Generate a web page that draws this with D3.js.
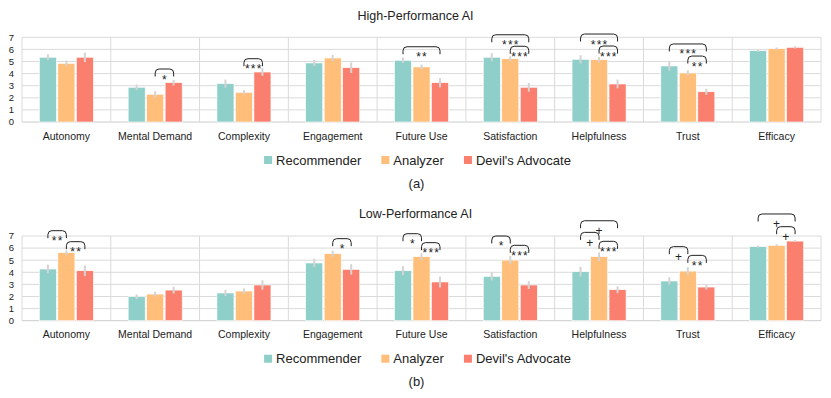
<!DOCTYPE html>
<html>
<head>
<meta charset="utf-8">
<script src="https://cdn.jsdelivr.net/npm/d3@7"></script>
<style>
  body { margin: 0; background: #fff; }
  text { font-family: "Liberation Sans", Arial, sans-serif; fill: #222; }
</style>
</head>
<body>
<div id="chart"></div>
<script>
// categories + series
const categories = ["Autonomy", "Mental Demand", "Complexity", "Engagement", "Future Use",
  "Satisfaction", "Helpfulness", "Trust", "Efficacy"];
const series = ["Recommender", "Analyzer", "Devil's Advocate"];
const colors = ["#8ECFC9", "#FFBE7A", "#FA7F6F"];
const yTicks = [0, 1, 2, 3, 4, 5, 6, 7];

// (a) high-performance AI, means and error half-widths
const highRecommender = [5.35, 2.87, 3.17, 4.88, 5.10, 5.35, 5.18, 4.63, 5.89];
const highAnalyzer    = [4.85, 2.29, 2.45, 5.29, 4.55, 5.23, 5.15, 4.05, 6.06];
const highDevil       = [5.35, 3.25, 4.13, 4.49, 3.25, 2.87, 3.14, 2.50, 6.17];
const highRecommenderErr = [0.24, 0.23, 0.33, 0.26, 0.22, 0.33, 0.34, 0.37, 0.10];
const highAnalyzerErr    = [0.23, 0.26, 0.18, 0.25, 0.20, 0.20, 0.22, 0.22, 0.10];
const highDevilErr       = [0.39, 0.23, 0.32, 0.44, 0.38, 0.36, 0.36, 0.25, 0.10];
// significance brackets: category, series index from/to, label, level (scale units)
const highBrackets = [
  { cat: "Mental Demand", a: 1, b: 2, label: "*", level: 4.38 },
  { cat: "Complexity", a: 1, b: 2, label: "***", level: 5.23 },
  { cat: "Future Use", a: 0, b: 2, label: "**", level: 6.22 },
  { cat: "Satisfaction", a: 0, b: 2, label: "***", level: 7.21 },
  { cat: "Satisfaction", a: 1, b: 2, label: "***", level: 6.26 },
  { cat: "Helpfulness", a: 0, b: 2, label: "***", level: 7.27 },
  { cat: "Helpfulness", a: 1, b: 2, label: "***", level: 6.28 },
  { cat: "Trust", a: 0, b: 2, label: "***", level: 6.45 },
  { cat: "Trust", a: 1, b: 2, label: "**", level: 5.45 }
];

// (b) low-performance AI
const lowRecommender = [4.27, 1.98, 2.29, 4.77, 4.13, 3.66, 4.05, 3.28, 6.12];
const lowAnalyzer    = [5.62, 2.20, 2.45, 5.54, 5.29, 5.01, 5.29, 4.10, 6.23];
const lowDevil       = [4.13, 2.53, 2.95, 4.24, 3.20, 2.95, 2.56, 2.78, 6.58];
const lowRecommenderErr = [0.36, 0.19, 0.26, 0.34, 0.37, 0.34, 0.40, 0.30, 0.08];
const lowAnalyzerErr    = [0.18, 0.20, 0.22, 0.25, 0.28, 0.34, 0.36, 0.33, 0.08];
const lowDevilErr       = [0.43, 0.28, 0.39, 0.43, 0.45, 0.33, 0.28, 0.20, 0.08];
const lowBrackets = [
  { cat: "Autonomy", a: 0, b: 1, label: "**", level: 7.44 },
  { cat: "Autonomy", a: 1, b: 2, label: "**", level: 6.53 },
  { cat: "Engagement", a: 1, b: 2, label: "*", level: 6.78 },
  { cat: "Future Use", a: 0, b: 1, label: "*", level: 7.19 },
  { cat: "Future Use", a: 1, b: 2, label: "***", level: 6.45 },
  { cat: "Satisfaction", a: 0, b: 1, label: "*", level: 7.0 },
  { cat: "Satisfaction", a: 1, b: 2, label: "***", level: 6.23 },
  { cat: "Helpfulness", a: 0, b: 2, label: "+", level: 8.26 },
  { cat: "Helpfulness", a: 0, b: 1, label: "+", level: 7.3 },
  { cat: "Helpfulness", a: 1, b: 2, label: "***", level: 6.56 },
  { cat: "Trust", a: 0, b: 1, label: "+", level: 6.12 },
  { cat: "Trust", a: 1, b: 2, label: "**", level: 5.4 },
  { cat: "Efficacy", a: 0, b: 2, label: "+", level: 8.82 },
  { cat: "Efficacy", a: 1, b: 2, label: "+", level: 7.77 }
];

const width = 831, height = 398;
const plot = { left: 22, right: 821, top: 37.3, bottom: 122 };

const svg = d3.select("#chart").append("svg")
  .attr("width", width)
  .attr("height", height)
  .attr("viewBox", [0, 0, width, height]);

const x0 = d3.scaleBand().domain(categories).range([plot.left, plot.right]);
const x1 = d3.scaleBand().domain(d3.range(series.length))
  .range([0, x0.bandwidth()]).paddingInner(0.08).paddingOuter(0.94);
const y = d3.scaleLinear().domain([0, 7]).range([plot.bottom, plot.top]);

function drawPanel(offset, title, caption, means, errs, brackets) {
  const g = svg.append("g").attr("transform", `translate(0,${offset})`);

  g.append("text")
    .attr("x", width / 2).attr("y", 19.5)
    .attr("text-anchor", "middle")
    .attr("font-size", 12.5)
    .text(title);

  // grid
  g.append("g").selectAll("line")
    .data(yTicks)
    .join("line")
    .attr("x1", plot.left).attr("x2", plot.right)
    .attr("y1", d => y(d)).attr("y2", d => y(d))
    .attr("stroke", d => d === 0 ? "#cccccc" : "#dadada")
    .attr("stroke-width", 1);
  g.append("g").selectAll("line")
    .data(categories.concat(["__end"]))
    .join("line")
    .attr("x1", d => d === "__end" ? plot.right : x0(d))
    .attr("x2", d => d === "__end" ? plot.right : x0(d))
    .attr("y1", y(0)).attr("y2", y(7))
    .attr("stroke", "#dadada");

  // y axis labels
  g.append("g").selectAll("text")
    .data(yTicks)
    .join("text")
    .attr("x", 14).attr("y", d => y(d))
    .attr("dy", "0.35em")
    .attr("text-anchor", "end")
    .attr("font-size", 9.5)
    .text(d => d);

  // bars
  const rows = [];
  categories.forEach((c, i) => {
    series.forEach((s, k) => rows.push({ cat: c, k, v: means[k][i], e: errs[k][i] }));
  });
  g.append("g").selectAll("rect")
    .data(rows)
    .join("rect")
    .attr("x", d => x0(d.cat) + x1(d.k))
    .attr("width", x1.bandwidth())
    .attr("y", d => y(d.v))
    .attr("height", d => y(0) - y(d.v))
    .attr("fill", d => colors[d.k])
    .attr("stroke", "#fff")
    .attr("stroke-width", 0.6);

  // error bars
  g.append("g").selectAll("line")
    .data(rows)
    .join("line")
    .attr("x1", d => x0(d.cat) + x1(d.k) + x1.bandwidth() / 2)
    .attr("x2", d => x0(d.cat) + x1(d.k) + x1.bandwidth() / 2)
    .attr("y1", d => y(d.v - d.e))
    .attr("y2", d => y(d.v + d.e))
    .attr("stroke", "#d4d4d4")
    .attr("stroke-width", 2);

  // category labels
  g.append("g").selectAll("text")
    .data(categories)
    .join("text")
    .attr("x", d => x0(d) + x0.bandwidth() / 2)
    .attr("y", 139.5)
    .attr("text-anchor", "middle")
    .attr("font-size", 10.5)
    .text(d => d);

  // significance brackets
  const cx = (cat, k) => x0(cat) + x1(k) + x1.bandwidth() / 2;
  const bg = g.append("g");
  bg.selectAll("path")
    .data(brackets)
    .join("path")
    .attr("d", d => {
      const xa = cx(d.cat, d.a), xb = cx(d.cat, d.b), t = y(d.level), r = 4, h = 7.5;
      return `M${xa},${t + h}V${t + r}Q${xa},${t} ${xa + r},${t}H${xb - r}Q${xb},${t} ${xb},${t + r}V${t + h}`;
    })
    .attr("fill", "none")
    .attr("stroke", "#222")
    .attr("stroke-width", 1);
  bg.selectAll("text")
    .data(brackets)
    .join("text")
    .attr("x", d => (cx(d.cat, d.a) + cx(d.cat, d.b)) / 2 + (d.label.length > 1 ? 0.6 : 0))
    .attr("y", d => y(d.level) + 14.5)
    .attr("text-anchor", "middle")
    .attr("font-size", 12)
    .attr("letter-spacing", d => d.label.length > 1 ? 1.2 : 0)
    .text(d => d.label);

  // legend
  const lg = g.append("g");
  const items = lg.selectAll("g")
    .data(series)
    .join("g");
  items.append("rect")
    .attr("width", 8).attr("height", 8)
    .attr("y", 160 - 4)
    .attr("fill", (d, i) => colors[i]);
  items.append("text")
    .attr("x", 12).attr("y", 160)
    .attr("dy", "0.35em")
    .attr("font-size", 13)
    .text(d => d);
  let pos = 0;
  const offs = [];
  items.each(function () {
    offs.push(pos);
    pos += 12 + d3.select(this).select("text").node().getComputedTextLength() + 20;
  });
  const total = pos - 20;
  const start = 417.5 - total / 2;
  items.attr("transform", (d, i) => `translate(${start + offs[i]},0)`);

  g.append("text")
    .attr("x", 416.5).attr("y", 183)
    .attr("dy", "0.35em")
    .attr("text-anchor", "middle")
    .attr("font-size", 13)
    .text(caption);
}

drawPanel(0, "High-Performance AI", "(a)",
  [highRecommender, highAnalyzer, highDevil],
  [highRecommenderErr, highAnalyzerErr, highDevilErr],
  highBrackets);
drawPanel(198.7, "Low-Performance AI", "(b)",
  [lowRecommender, lowAnalyzer, lowDevil],
  [lowRecommenderErr, lowAnalyzerErr, lowDevilErr],
  lowBrackets);
</script>
</body>
</html>
